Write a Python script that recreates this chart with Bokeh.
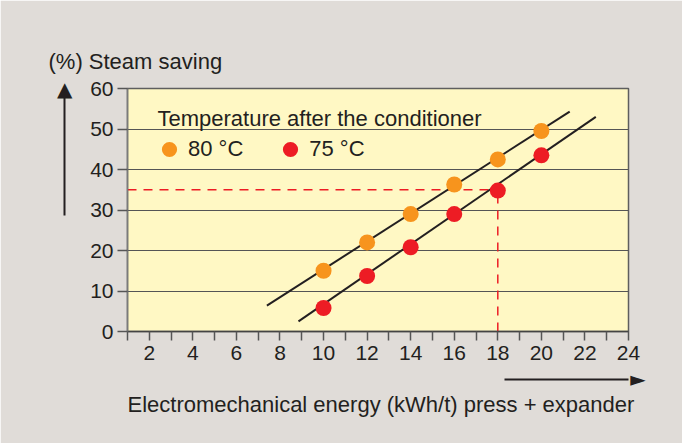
from bokeh.plotting import figure
from bokeh.models import (Range1d, FixedTicker, Label, LinearAxis, Title,
                          Legend, LegendItem, ColumnDataSource)
from bokeh.embed import file_html
from bokeh.resources import INLINE

# ---- data ----
energy = [10, 12, 14, 16, 18, 20]
saving_80 = [15.0, 22.0, 29.0, 36.3, 42.5, 49.5]
saving_75 = [5.8, 13.7, 20.8, 29.0, 34.8, 43.5]
fit80_x = [7.4, 21.3]
fit80_y = [6.4, 54.3]
fit75_x = [8.85, 22.5]
fit75_y = [2.5, 53.0]
ref_energy = 18
ref_saving = 35
x_start, x_end = 1, 24
y_start, y_end = 0, 60
x_ticks = list(range(1, 25))
x_tick_labels = {t: (str(t) if t % 2 == 0 else "") for t in x_ticks}
y_ticks = [0, 10, 20, 30, 40, 50, 60]
series_labels = ["80 °C", "75 °C"]
legend_title = "Temperature after the conditioner"
y_title = "(%) Steam saving"
x_title = "Electromechanical energy (kWh/t) press + expander"
# direction arrows beside the axes (in axis units)
y_arrow_span = (28.6, 60)
x_arrow_span = (18.33, 24)

# ---- style ----
FONT = "Liberation Sans"
FS = "21px"
FS_T = "22px"
TXT = "#231f20"
ORANGE = "#f7941d"
RED = "#ed1c24"
BG = "#e0dcd8"
PLOT_BG = "#fff8c4"
GRID = "#555555"

p = figure(width=682, height=443, output_backend="svg", toolbar_location=None,
           x_range=Range1d(x_start, x_end), y_range=Range1d(y_start, y_end),
           min_border_left=127, min_border_right=54, min_border_top=88,
           min_border_bottom=112)
p.background_fill_color = PLOT_BG
p.border_fill_color = BG
p.outline_line_color = "#5e5e5e"
p.outline_line_width = 1.5

p.xgrid.visible = False
p.ygrid.ticker = FixedTicker(ticks=y_ticks)
p.ygrid.grid_line_color = GRID
p.ygrid.grid_line_width = 1.2

for ax in (p.xaxis[0], p.yaxis[0]):
    ax.major_label_text_font = FONT
    ax.major_label_text_font_size = FS
    ax.major_label_text_color = TXT
    ax.major_tick_in = 0
    ax.minor_tick_line_color = None
    ax.major_tick_line_color = "#555555"
    ax.major_tick_line_width = 1.5
    ax.axis_label = " "
    ax.axis_label_text_font_size = "1px"

p.xaxis.ticker = FixedTicker(ticks=x_ticks)
p.xaxis.major_label_overrides = x_tick_labels
p.xaxis.major_tick_out = 9
p.xaxis.major_label_standoff = 5
p.xaxis.axis_line_color = "#444444"
p.xaxis.axis_line_width = 1.5
p.xaxis.axis_label_standoff = 13

p.yaxis.ticker = FixedTicker(ticks=y_ticks)
p.yaxis.major_tick_out = 10
p.yaxis.major_label_standoff = 4
p.yaxis.axis_line_color = "#7a7a7a"
p.yaxis.axis_line_width = 1.5
p.yaxis.axis_label_standoff = 19

# arrow axes (shaft = axis line, head = tick label)
y_arrow = LinearAxis(bounds=y_arrow_span,
                     ticker=FixedTicker(ticks=[y_arrow_span[1]]),
                     major_label_overrides={y_arrow_span[1]: "▲"},
                     axis_line_color=TXT, axis_line_width=2,
                     major_tick_line_color=None, minor_tick_line_color=None,
                     major_tick_in=0, major_tick_out=0,
                     major_label_standoff=-8,
                     major_label_text_font="DejaVu Sans",
                     major_label_text_font_size="20px",
                     major_label_text_color=TXT)
p.add_layout(y_arrow, "left")

x_arrow = LinearAxis(bounds=x_arrow_span,
                     ticker=FixedTicker(ticks=[x_arrow_span[1]]),
                     major_label_overrides={x_arrow_span[1]: "\u00a0\u00a0\u00a0►"},
                     axis_line_color=TXT, axis_line_width=2,
                     major_tick_line_color=None, minor_tick_line_color=None,
                     major_tick_in=0, major_tick_out=0,
                     major_label_standoff=-13,
                     major_label_text_font="DejaVu Sans",
                     major_label_text_font_size="20px",
                     major_label_text_color=TXT)
p.add_layout(x_arrow, "below")

p.add_layout(Title(text=x_title, align="left", offset=0, standoff=-3,
                   vertical_align="top", text_font=FONT, text_font_size=FS_T,
                   text_font_style="normal", text_color=TXT), "below")
p.add_layout(Title(text=y_title, align="left", offset=-79, standoff=30,
                   text_font=FONT, text_font_size=FS_T,
                   text_font_style="normal", text_color=TXT), "above")

# reference dashed guides
p.line([x_start, ref_energy], [ref_saving, ref_saving], line_color=RED,
       line_width=1.5, line_dash="9 7")
p.line([ref_energy, ref_energy], [y_start, ref_saving], line_color=RED,
       line_width=1.5, line_dash="9 7")

# trend lines
p.line(fit80_x, fit80_y, line_color=TXT, line_width=2)
p.line(fit75_x, fit75_y, line_color=TXT, line_width=2)

src = ColumnDataSource(dict(x=energy, y80=saving_80, y75=saving_75))
r80 = p.scatter("x", "y80", source=src, size=16, fill_color=ORANGE, line_color=None)
r75 = p.scatter("x", "y75", source=src, size=16, fill_color=RED, line_color=None)

legend = Legend(items=[LegendItem(label=series_labels[0], renderers=[r80]),
                       LegendItem(label=series_labels[1], renderers=[r75])],
                location=(23, 163), orientation="horizontal",
                glyph_width=38, glyph_height=38, label_standoff=0, spacing=28,
                padding=0, margin=0, border_line_color=None,
                background_fill_alpha=0, label_text_font=FONT,
                label_text_font_size=FS_T, label_text_color=TXT,
                label_text_baseline="middle")
p.add_layout(legend)

p.add_layout(Label(x=30, y=213, x_units="screen", y_units="screen", text=legend_title,
                   text_font=FONT, text_font_size=FS_T, text_color=TXT,
                   text_baseline="middle", text_align="left"))

html = file_html(p, INLINE)
html = html.replace("<body>", '<body style="background:%s;">' % BG, 1)
open("out.html", "w").write(html)
